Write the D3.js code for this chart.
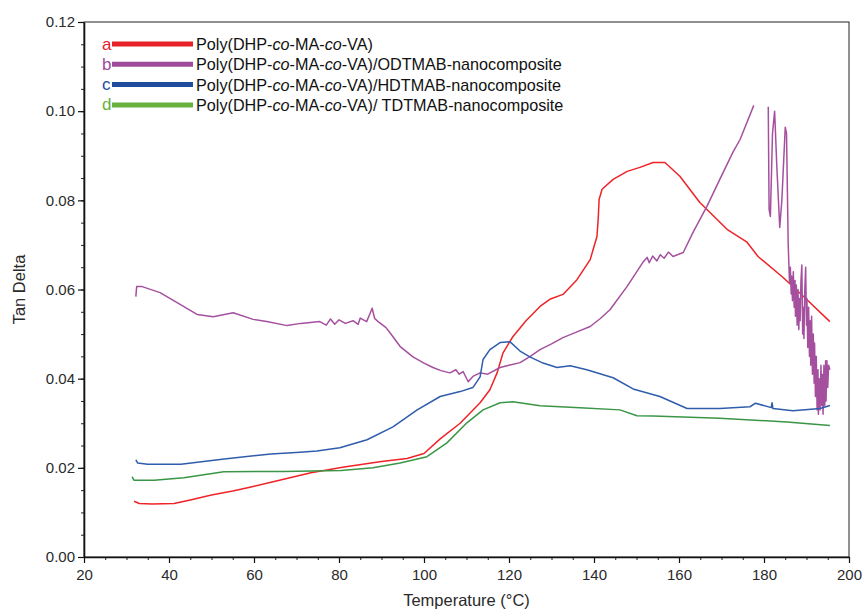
<!DOCTYPE html>
<html>
<head>
<meta charset="utf-8">
<script src="https://cdn.jsdelivr.net/npm/d3@7"></script>
<style>
  body { margin: 0; background: #fff; }
  svg { font-family: "Liberation Sans", Arial, sans-serif; }
</style>
</head>
<body>
<div class="graph"></div>
<script>
// a: Poly(DHP-co-MA-co-VA)
const aTemp = [31.8, 33, 36, 41.2, 45, 50, 55, 59.3, 65, 73.4, 81.2, 90, 96, 100, 103.8, 108.5, 113.2, 115.5, 117.2, 118.6, 120.9, 124, 127.3, 129.6, 132.7, 136.0, 139.1, 140.7, 141.0, 141.2, 141.9, 144.5, 147.8, 150.8, 153.9, 156.7, 160.2, 164.9, 171.3, 176.0, 178.6, 184.5, 190, 195.5];
const aTan = [0.0125, 0.0120, 0.0119, 0.0120, 0.0128, 0.0139, 0.0148, 0.0157, 0.0170, 0.0189, 0.0202, 0.0214, 0.0221, 0.0232, 0.0265, 0.0300, 0.0346, 0.0375, 0.0413, 0.0458, 0.0494, 0.0530, 0.0562, 0.0578, 0.0589, 0.0622, 0.0667, 0.0719, 0.0760, 0.0802, 0.0825, 0.0847, 0.0865, 0.0874, 0.0885, 0.0885, 0.0854, 0.0795, 0.0735, 0.0706, 0.0674, 0.0627, 0.0578, 0.0528];

// b: ODTMAB-nanocomposite (null = gap in the trace)
const bTemp = [32.2, 32.4, 33.5, 37.9, 42, 46.6, 50.4, 55.1, 59.8, 63, 67.8, 71, 75.5, 77, 78, 79, 80, 81.5, 83.3, 84.5, 85, 86.5, 87.3, 87.8, 88.4, 89.2, 91, 92, 94.4, 97.4, 100, 102.1, 104, 106.1, 107.5, 108.3, 109.2, 110.4, 111.5, 113.2, 115, 117.9, 120, 122.6, 125, 127.3, 130, 132.7, 136, 139.1, 141.5, 143.8, 147.8, 151.5, 152.5, 153, 153.8, 154.8, 155.6, 156.5, 157.5, 158.6, 161, 163.3, 166.6, 169.6, 172.7, 174.4, 176, 177.6,
  179.5,
  181.0, 181.2, 181.5, 182.0, 182.5, 183.0, 183.4, 183.7, 184.2, 185.0, 185.3, 185.7,
  186.0, 186.2, 186.4, 186.5, 186.7, 186.9, 187.1, 187.3, 187.4, 187.6, 187.8, 188.0, 188.2, 188.3, 188.5, 188.7, 188.9, 189.1, 189.2, 189.4, 189.6, 189.8, 190.0, 190.1, 190.3,
  190.5, 190.7, 190.9, 191.0, 191.2, 191.4, 191.6, 191.8, 191.9, 192.1, 192.3, 192.5, 192.7, 192.8, 193.0, 193.2, 193.4, 193.6, 193.7, 193.9, 194.1, 194.3, 194.5, 194.6, 194.8, 195.0, 195.2, 195.5];
const bTan = [0.0584, 0.0607, 0.0607, 0.0593, 0.0570, 0.0544, 0.0539, 0.0548, 0.0533, 0.0528, 0.0519, 0.0524, 0.0528, 0.0520, 0.0534, 0.0522, 0.0532, 0.0524, 0.0530, 0.0522, 0.0536, 0.0528, 0.0546, 0.0558, 0.0535, 0.0528, 0.0515, 0.0503, 0.0472, 0.0449, 0.0435, 0.0425, 0.0418, 0.0413, 0.0420, 0.0410, 0.0416, 0.0393, 0.0405, 0.0413, 0.0410, 0.0425, 0.0430, 0.0436, 0.0450, 0.0465, 0.0478, 0.0492, 0.0505, 0.0517, 0.0535, 0.0555, 0.0607, 0.0661, 0.0672, 0.0660, 0.0675, 0.0664, 0.0678, 0.0670, 0.0684, 0.0674, 0.0683, 0.0728, 0.0787, 0.0847, 0.0908, 0.0937, 0.0975, 0.1013,
  null,
  0.1010, 0.0780, 0.0764, 0.0950, 0.1000, 0.0880, 0.0800, 0.0739, 0.0800, 0.0964, 0.0950, 0.0700,
  0.0616, 0.0650, 0.0590, 0.0630, 0.0575, 0.0640, 0.0560, 0.0620, 0.0540, 0.0610, 0.0520, 0.0600, 0.0510, 0.0580, 0.0530, 0.0620, 0.0655, 0.0500, 0.0560, 0.0490, 0.0600, 0.0650, 0.0520, 0.0580, 0.0470,
  0.0560, 0.0450, 0.0530, 0.0430, 0.0540, 0.0410, 0.0500, 0.0390, 0.0480, 0.0360, 0.0450, 0.0330, 0.0420, 0.0320, 0.0400, 0.0330, 0.0430, 0.0340, 0.0410, 0.0320, 0.0430, 0.0340, 0.0440, 0.0350, 0.0440, 0.0380, 0.0430, 0.0420];

// c: HDTMAB-nanocomposite
const cTemp = [32.2, 32.6, 35, 42.8, 53, 64, 70.8, 74.8, 80.2, 86.6, 92.7, 98.4, 103.8, 108.5, 111.5, 113.2, 113.9, 115.5, 117.9, 120.2, 122.6, 124.9, 128, 131.3, 134.4, 138.3, 144.5, 149.2, 155.5, 161.9, 169.6, 176.7, 178, 181.7, 181.9, 182.1, 186.8, 193.2, 195.5];
const cTan = [0.0218, 0.0211, 0.0208, 0.0208, 0.0220, 0.0231, 0.0235, 0.0238, 0.0245, 0.0263, 0.0292, 0.0330, 0.0360, 0.0371, 0.0380, 0.0404, 0.0443, 0.0465, 0.0481, 0.0483, 0.0462, 0.0449, 0.0435, 0.0425, 0.0429, 0.0420, 0.0402, 0.0377, 0.0360, 0.0333, 0.0333, 0.0337, 0.0345, 0.0335, 0.0346, 0.0333, 0.0328, 0.0333, 0.0340];

// d: TDTMAB-nanocomposite
const dTemp = [31.3, 31.8, 36.5, 43.5, 52.9, 67, 80.5, 88, 94.4, 100.7, 105.4, 110.1, 113.9, 117.9, 120.9, 127.3, 136.7, 146.1, 150.1, 153.9, 169.6, 185.4, 195.5];
const dTan = [0.0180, 0.0172, 0.0172, 0.0178, 0.0191, 0.0192, 0.0194, 0.0200, 0.0211, 0.0225, 0.0256, 0.0301, 0.0330, 0.0346, 0.0348, 0.0339, 0.0335, 0.0330, 0.0317, 0.0316, 0.0311, 0.0303, 0.0295];

const xTicks = [20, 40, 60, 80, 100, 120, 140, 160, 180, 200];
const yTicks = [0, 0.02, 0.04, 0.06, 0.08, 0.10, 0.12];

const series = [
  { key: "a", t: aTemp, v: aTan, color: "#ee2328", legend: "#e8202a", parts: ["Poly(DHP-", "co", "-MA-", "co", "-VA)"] },
  { key: "b", t: bTemp, v: bTan, color: "#a5509f", legend: "#a04a9c", parts: ["Poly(DHP-", "co", "-MA-", "co", "-VA)/ODTMAB-nanocomposite"] },
  { key: "c", t: cTemp, v: cTan, color: "#2f5dab", legend: "#1f4c9c", parts: ["Poly(DHP-", "co", "-MA-", "co", "-VA)/HDTMAB-nanocomposite"] },
  { key: "d", t: dTemp, v: dTan, color: "#3a9646", legend: "#66b23c", parts: ["Poly(DHP-", "co", "-MA-", "co", "-VA)/ TDTMAB-nanocomposite"] }
];

const W = 864, H = 610;
const pLeft = 84, pRight = 849, pTop = 22, pBottom = 557;

const x = d3.scaleLinear().domain([20, 200]).range([pLeft, pRight]);
const y = d3.scaleLinear().domain([0, 0.12]).range([pBottom, pTop]);

const svg = d3.select(".graph").append("svg")
  .attr("width", W).attr("height", H);

// frame
svg.append("rect")
  .attr("x", pLeft).attr("y", pTop)
  .attr("width", pRight - pLeft).attr("height", pBottom - pTop)
  .attr("fill", "none").attr("stroke", "#222").attr("stroke-width", 1);

// minor ticks
svg.append("g")
  .attr("transform", `translate(0,${pBottom})`)
  .call(d3.axisBottom(x).tickValues(d3.range(20, 201, 5)).tickSize(3).tickFormat(""))
  .call(g => g.select(".domain").remove())
  .selectAll("line").attr("stroke", "#222");

svg.append("g")
  .attr("transform", `translate(${pLeft},0)`)
  .call(d3.axisLeft(y).tickValues(d3.range(0, 0.1201, 0.005)).tickSize(3).tickFormat(""))
  .call(g => g.select(".domain").remove())
  .selectAll("line").attr("stroke", "#222");

// major axes
const xAxis = svg.append("g")
  .attr("transform", `translate(0,${pBottom})`)
  .call(d3.axisBottom(x).tickValues(xTicks).tickSize(6).tickPadding(6).tickFormat(d3.format("d")).tickSizeOuter(0));
xAxis.select(".domain").attr("stroke", "#111").attr("stroke-width", 1.6);
xAxis.selectAll("line").attr("stroke", "#111").attr("stroke-width", 1.2);
xAxis.selectAll("text").attr("font-size", 15).attr("fill", "#2a2a2a").attr("font-family", "Liberation Sans, Arial, sans-serif");

const yAxis = svg.append("g")
  .attr("transform", `translate(${pLeft},0)`)
  .call(d3.axisLeft(y).tickValues(yTicks).tickSize(6).tickPadding(3).tickFormat(d3.format(".2f")).tickSizeOuter(0));
yAxis.select(".domain").attr("stroke", "#111").attr("stroke-width", 1.6);
yAxis.selectAll("line").attr("stroke", "#111").attr("stroke-width", 1.2);
yAxis.selectAll("text").attr("font-size", 15).attr("fill", "#2a2a2a").attr("font-family", "Liberation Sans, Arial, sans-serif");

// axis titles
svg.append("text")
  .attr("x", (pLeft + pRight) / 2).attr("y", 606)
  .attr("text-anchor", "middle")
  .attr("font-size", 16.5).attr("fill", "#2a2a2a")
  .text("Temperature (°C)");

svg.append("text")
  .attr("transform", `translate(25,${(pTop + pBottom) / 2}) rotate(-90)`)
  .attr("text-anchor", "middle")
  .attr("font-size", 16.5).attr("fill", "#2a2a2a")
  .text("Tan Delta");

// curves
const line = d3.line()
  .defined(d => d[1] !== null)
  .x(d => x(d[0]))
  .y(d => y(d[1]));

series.forEach(s => {
  const pts = s.t.map((t, i) => [t, s.v[i]]);
  svg.append("path")
    .datum(pts)
    .attr("fill", "none")
    .attr("stroke", s.color)
    .attr("stroke-width", 1.5)
    .attr("stroke-linejoin", "round")
    .attr("d", line);
});

// legend
const legend = svg.append("g");
series.forEach((s, i) => {
  const ly = 44 + i * 20.3;
  legend.append("text")
    .attr("x", 102).attr("y", ly + 5.5)
    .attr("font-size", 17).attr("fill", s.legend)
    .text(s.key);
  legend.append("line")
    .attr("x1", 112).attr("x2", 193)
    .attr("y1", ly).attr("y2", ly)
    .attr("stroke", s.legend).attr("stroke-width", 5);
  const tx = legend.append("text")
    .attr("x", 196).attr("y", ly + 6)
    .attr("font-size", 16.2).attr("fill", "#111");
  s.parts.forEach((p, j) => {
    tx.append("tspan")
      .attr("font-style", j % 2 === 1 ? "italic" : "normal")
      .text(p);
  });
});
</script>
</body>
</html>
